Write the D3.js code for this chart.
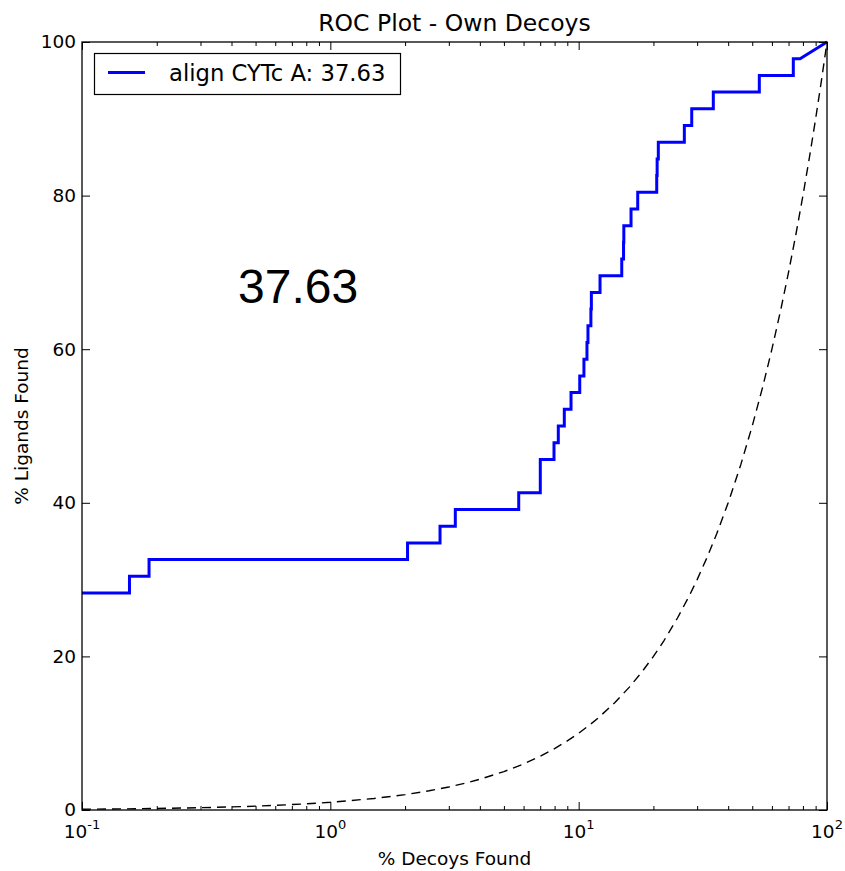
<!DOCTYPE html>
<html>
<head>
<meta charset="utf-8">
<script src="https://cdn.jsdelivr.net/npm/d3@7"></script>
<style>
  html, body { margin: 0; padding: 0; background: #fff; }
  svg { display: block; font-family: "DejaVu Sans", sans-serif; }
</style>
</head>
<body>
<svg id="chart" width="845" height="871"></svg>
<script>
// ---- data ----
const chartTitle = "ROC Plot - Own Decoys";
const xLabel = "% Decoys Found";
const yLabel = "% Ligands Found";
const seriesName = "align CYTc A: 37.63";
const scoreText = "37.63";

// step points: at decoy % stepX[i], ligand % rises to stepY[i]
const stepX = [0.1, 0.1553, 0.1862, 2.046, 2.765, 3.186, 5.736, 7.006, 7.956, 8.279, 8.753, 9.316,
               10.1, 10.5, 10.8, 10.9, 11.2, 11.25, 12.19, 14.91, 15.16, 15.2, 16.25, 17.29,
               20.62, 20.7, 20.93, 26.64, 28.53, 34.85, 53.39, 73.17];
const stepY = [28.26, 30.43, 32.61, 34.78, 36.96, 39.13, 41.30, 45.65, 47.83, 50.00, 52.17, 54.35,
               56.52, 58.70, 60.87, 63.04, 65.22, 67.39, 69.57, 71.74, 73.91, 76.09, 78.26, 80.43,
               82.61, 84.78, 86.96, 89.13, 91.30, 93.48, 95.65, 97.83];
const tailX = [77.87, 100];
const tailY = [97.83, 100];

// random-selection reference (dashed)
const randomX = [0.1, 0.15, 0.2, 0.3, 0.4, 0.5, 0.6, 0.8, 1, 1.5, 2, 2.5, 3, 3.5, 4, 5, 6, 7, 8, 9, 10, 11, 12, 14, 16, 18, 20, 22, 25, 28, 30, 33, 36, 40, 45, 50, 55, 60, 65, 70, 75, 80, 85, 90, 95, 100];
const randomY = [0.1, 0.15, 0.2, 0.3, 0.4, 0.5, 0.6, 0.8, 1, 1.5, 2, 2.5, 3, 3.5, 4, 5, 6, 7, 8, 9, 10, 11, 12, 14, 16, 18, 20, 22, 25, 28, 30, 33, 36, 40, 45, 50, 55, 60, 65, 70, 75, 80, 85, 90, 95, 100];

const xMajorTicks = [0.1, 1, 10, 100];
const xTickExponents = ["-1", "0", "1", "2"];
const xMinorMultipliers = [2, 3, 4, 5, 6, 7, 8, 9];
const yTicks = [0, 20, 40, 60, 80, 100];

// ---- layout ----
const L = 82, R = 827, T = 42, B = 810;
const svg = d3.select("#chart");

const x = d3.scaleLog().domain([0.1, 100]).range([L, R]);
const y = d3.scaleLinear().domain([0, 100]).range([B, T]);

const xMinorTicks = [];
xMajorTicks.slice(0, -1).forEach(d => xMinorMultipliers.forEach(m => xMinorTicks.push(d * m)));

// ---- lines ----
const rocPts = [];
stepX.forEach((sx, i) => {
  if (i > 0) rocPts.push([sx, stepY[i - 1]]);
  rocPts.push([sx, stepY[i]]);
});
tailX.forEach((tx, i) => rocPts.push([tx, tailY[i]]));

const line = d3.line().x(d => x(d[0])).y(d => y(d[1]));

const plot = svg.append("g");

plot.append("path")
  .datum(randomX.map((d, i) => [d, randomY[i]]))
  .attr("d", line)
  .attr("fill", "none")
  .attr("stroke", "#000")
  .attr("stroke-width", 1.4)
  .attr("stroke-dasharray", "9,6");

plot.append("path")
  .datum(rocPts)
  .attr("d", line)
  .attr("fill", "none")
  .attr("stroke", "#0000ff")
  .attr("stroke-width", 3)
  .attr("stroke-linejoin", "miter");

// ---- axes (ticks inward on all four sides) ----
function styleAxis(g) {
  g.select(".domain").remove();
  g.selectAll(".tick line").attr("stroke", "#000").attr("stroke-width", 1);
}
svg.append("g").attr("transform", `translate(0,${B})`)
  .call(d3.axisBottom(x).tickValues(xMajorTicks).tickSizeInner(-8).tickSizeOuter(0).tickFormat(""))
  .call(styleAxis);
svg.append("g").attr("transform", `translate(0,${B})`)
  .call(d3.axisBottom(x).tickValues(xMinorTicks).tickSizeInner(-4).tickSizeOuter(0).tickFormat(""))
  .call(styleAxis);
svg.append("g").attr("transform", `translate(0,${T})`)
  .call(d3.axisTop(x).tickValues(xMajorTicks).tickSizeInner(-8).tickSizeOuter(0).tickFormat(""))
  .call(styleAxis);
svg.append("g").attr("transform", `translate(0,${T})`)
  .call(d3.axisTop(x).tickValues(xMinorTicks).tickSizeInner(-4).tickSizeOuter(0).tickFormat(""))
  .call(styleAxis);

const yAxisG = svg.append("g").attr("transform", `translate(${L},0)`)
  .call(d3.axisLeft(y).tickValues(yTicks).tickSizeInner(-8).tickSizeOuter(0).tickPadding(6))
  .call(styleAxis);
yAxisG.selectAll(".tick text")
  .attr("font-family", "DejaVu Sans, sans-serif")
  .attr("font-size", 18.5)
  .attr("fill", "#000");
svg.append("g").attr("transform", `translate(${R},0)`)
  .call(d3.axisRight(y).tickValues(yTicks).tickSizeInner(-8).tickSizeOuter(0).tickFormat(""))
  .call(styleAxis);

// x tick labels with superscripts
const xl = svg.append("g").attr("font-size", 18.5).attr("fill", "#000");
xMajorTicks.forEach((v, i) => {
  const t = xl.append("text")
    .attr("x", x(v))
    .attr("y", 838)
    .attr("text-anchor", "middle");
  t.append("tspan").text("10");
  t.append("tspan").attr("dy", -9).attr("font-size", 13).text(xTickExponents[i]);
});

// frame
svg.append("rect")
  .attr("x", L).attr("y", T).attr("width", R - L).attr("height", B - T)
  .attr("fill", "none").attr("stroke", "#000").attr("stroke-width", 1.3);

// ---- text ----
svg.append("text")
  .attr("x", (L + R) / 2).attr("y", 31)
  .attr("text-anchor", "middle")
  .attr("font-size", 23.5)
  .text(chartTitle);

svg.append("text")
  .attr("x", (L + R) / 2).attr("y", 865)
  .attr("text-anchor", "middle")
  .attr("font-size", 18.5)
  .text(xLabel);

svg.append("text")
  .attr("transform", `translate(28,${(T + B) / 2}) rotate(-90)`)
  .attr("text-anchor", "middle")
  .attr("font-size", 18.5)
  .text(yLabel);

svg.append("text")
  .attr("x", x(0.425)).attr("y", y(66))
  .attr("font-family", "Liberation Sans, Arial, sans-serif")
  .attr("font-size", 48)
  .text(scoreText);

// ---- legend ----
const lg = svg.append("g");
lg.append("rect")
  .attr("x", 94.5).attr("y", 53.5).attr("width", 306).attr("height", 41)
  .attr("fill", "#fff").attr("stroke", "#000").attr("stroke-width", 1.2);
lg.append("line")
  .attr("x1", 108).attr("x2", 145).attr("y1", 72.5).attr("y2", 72.5)
  .attr("stroke", "#0000ff").attr("stroke-width", 3);
lg.append("text")
  .attr("x", 169).attr("y", 80.5)
  .attr("font-size", 22.7)
  .text(seriesName);
</script>
</body>
</html>
